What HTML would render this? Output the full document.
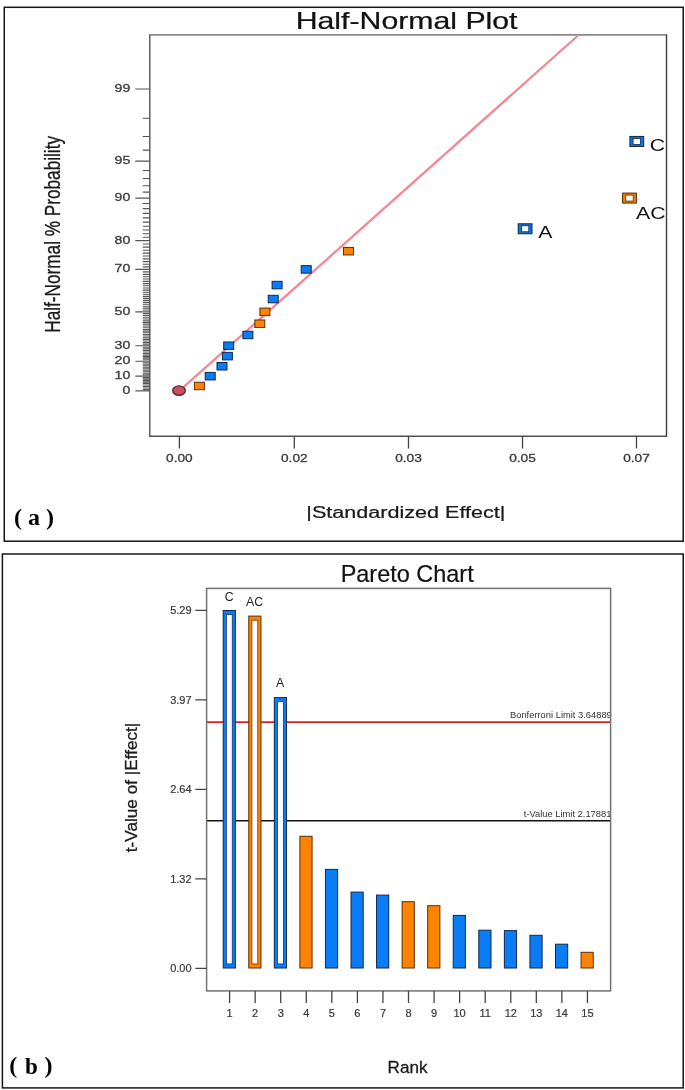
<!DOCTYPE html><html><head><meta charset="utf-8"><style>html,body{margin:0;padding:0;background:#fff;width:685px;height:1090px;overflow:hidden}svg{display:block;filter:blur(0.35px)}</style></head><body>
<svg width="685" height="1090" viewBox="0 0 685 1090">
<rect x="0" y="0" width="685" height="1090" fill="#fff"/>
<rect x="4.25" y="7.3" width="678.95" height="533.9" fill="none" stroke="#161616" stroke-width="1.5"/>
<rect x="2.4" y="554" width="680.8" height="533.9" fill="none" stroke="#161616" stroke-width="1.5"/>
<text transform="translate(295.72,29.20) scale(1.3153,1)" font-family='"Liberation Sans", sans-serif' font-size="23" fill="#111" xml:space="preserve" stroke="#111" stroke-width="0.25">Half-Normal Plot</text>
<path d="M149.10000000000002 34.9H667.2" stroke="#888" stroke-width="1.8" fill="none"/>
<path d="M149.8 34.9V436.3" stroke="#555" stroke-width="1.4" fill="none"/>
<path d="M666.5 34.9V437.0" stroke="#3c3c3c" stroke-width="1.4" fill="none"/>
<path d="M149.10000000000002 436.3H667.2" stroke="#505050" stroke-width="1.4" fill="none"/>
<path d="M135.3 390.90H149.8 M142.8 389.43H149.8 M142.8 387.96H149.8 M142.8 386.49H149.8 M142.8 385.02H149.8 M142.8 383.55H149.8 M142.8 382.08H149.8 M142.8 380.60H149.8 M142.8 379.13H149.8 M142.8 377.65H149.8 M135.3 376.17H149.8 M142.8 374.69H149.8 M142.8 373.20H149.8 M142.8 371.72H149.8 M142.8 370.22H149.8 M142.8 368.73H149.8 M142.8 367.23H149.8 M142.8 365.73H149.8 M142.8 364.23H149.8 M142.8 362.72H149.8 M135.3 361.20H149.8 M142.8 359.68H149.8 M142.8 358.16H149.8 M142.8 356.63H149.8 M142.8 355.09H149.8 M142.8 353.55H149.8 M142.8 352.00H149.8 M142.8 350.44H149.8 M142.8 348.88H149.8 M142.8 347.31H149.8 M135.3 345.73H149.8 M142.8 344.14H149.8 M142.8 342.55H149.8 M142.8 340.95H149.8 M142.8 339.33H149.8 M142.8 337.71H149.8 M142.8 336.07H149.8 M142.8 334.43H149.8 M142.8 332.77H149.8 M142.8 331.11H149.8 M142.8 329.43H149.8 M142.8 327.74H149.8 M142.8 326.03H149.8 M142.8 324.31H149.8 M142.8 322.58H149.8 M142.8 320.83H149.8 M142.8 319.06H149.8 M142.8 317.28H149.8 M142.8 315.48H149.8 M142.8 313.67H149.8 M135.3 311.83H149.8 M142.8 309.98H149.8 M142.8 308.10H149.8 M142.8 306.21H149.8 M142.8 304.29H149.8 M142.8 302.35H149.8 M142.8 300.38H149.8 M142.8 298.39H149.8 M142.8 296.37H149.8 M142.8 294.32H149.8 M142.8 292.24H149.8 M142.8 290.13H149.8 M142.8 287.99H149.8 M142.8 285.81H149.8 M142.8 283.60H149.8 M142.8 281.34H149.8 M142.8 279.05H149.8 M142.8 276.71H149.8 M142.8 274.33H149.8 M142.8 271.89H149.8 M135.3 269.40H149.8 M142.8 266.86H149.8 M142.8 264.26H149.8 M142.8 261.59H149.8 M142.8 258.86H149.8 M142.8 256.05H149.8 M142.8 253.16H149.8 M142.8 250.19H149.8 M142.8 247.12H149.8 M142.8 243.95H149.8 M135.3 240.67H149.8 M142.8 237.27H149.8 M142.8 233.73H149.8 M142.8 230.04H149.8 M142.8 226.19H149.8 M142.8 222.15H149.8 M142.8 217.90H149.8 M142.8 213.41H149.8 M142.8 208.64H149.8 M142.8 203.55H149.8 M135.3 198.08H149.8 M142.8 192.16H149.8 M142.8 185.68H149.8 M142.8 178.50H149.8 M142.8 170.43H149.8 M135.3 161.14H149.8 M142.8 150.15H149.8 M142.8 136.51H149.8 M142.8 118.20H149.8 M135.3 88.95H149.8" stroke="#555" stroke-width="1.1" fill="none"/>
<text transform="translate(130.3,393.90) scale(1.22,1)" text-anchor="end" font-family='"Liberation Sans", sans-serif' font-size="11.6" fill="#3a3a3a" stroke="#3a3a3a" stroke-width="0.3">0</text>
<text transform="translate(130.3,379.17) scale(1.22,1)" text-anchor="end" font-family='"Liberation Sans", sans-serif' font-size="11.6" fill="#3a3a3a" stroke="#3a3a3a" stroke-width="0.3">10</text>
<text transform="translate(130.3,364.20) scale(1.22,1)" text-anchor="end" font-family='"Liberation Sans", sans-serif' font-size="11.6" fill="#3a3a3a" stroke="#3a3a3a" stroke-width="0.3">20</text>
<text transform="translate(130.3,348.73) scale(1.22,1)" text-anchor="end" font-family='"Liberation Sans", sans-serif' font-size="11.6" fill="#3a3a3a" stroke="#3a3a3a" stroke-width="0.3">30</text>
<text transform="translate(130.3,314.83) scale(1.22,1)" text-anchor="end" font-family='"Liberation Sans", sans-serif' font-size="11.6" fill="#3a3a3a" stroke="#3a3a3a" stroke-width="0.3">50</text>
<text transform="translate(130.3,272.40) scale(1.22,1)" text-anchor="end" font-family='"Liberation Sans", sans-serif' font-size="11.6" fill="#3a3a3a" stroke="#3a3a3a" stroke-width="0.3">70</text>
<text transform="translate(130.3,243.67) scale(1.22,1)" text-anchor="end" font-family='"Liberation Sans", sans-serif' font-size="11.6" fill="#3a3a3a" stroke="#3a3a3a" stroke-width="0.3">80</text>
<text transform="translate(130.3,201.08) scale(1.22,1)" text-anchor="end" font-family='"Liberation Sans", sans-serif' font-size="11.6" fill="#3a3a3a" stroke="#3a3a3a" stroke-width="0.3">90</text>
<text transform="translate(130.3,164.14) scale(1.22,1)" text-anchor="end" font-family='"Liberation Sans", sans-serif' font-size="11.6" fill="#3a3a3a" stroke="#3a3a3a" stroke-width="0.3">95</text>
<text transform="translate(130.3,91.95) scale(1.22,1)" text-anchor="end" font-family='"Liberation Sans", sans-serif' font-size="11.6" fill="#3a3a3a" stroke="#3a3a3a" stroke-width="0.3">99</text>
<path d="M179.4 436.3V448.5 M294.3 436.3V448.5 M408.5 436.3V448.5 M522.5 436.3V448.5 M636.5 436.3V448.5" stroke="#444" stroke-width="1.3" fill="none"/>
<text transform="translate(179.4,462.3) scale(1.18,1)" text-anchor="middle" font-family='"Liberation Sans", sans-serif' font-size="11.6" fill="#3a3a3a" stroke="#3a3a3a" stroke-width="0.3">0.00</text>
<text transform="translate(294.3,462.3) scale(1.18,1)" text-anchor="middle" font-family='"Liberation Sans", sans-serif' font-size="11.6" fill="#3a3a3a" stroke="#3a3a3a" stroke-width="0.3">0.02</text>
<text transform="translate(408.5,462.3) scale(1.18,1)" text-anchor="middle" font-family='"Liberation Sans", sans-serif' font-size="11.6" fill="#3a3a3a" stroke="#3a3a3a" stroke-width="0.3">0.03</text>
<text transform="translate(522.5,462.3) scale(1.18,1)" text-anchor="middle" font-family='"Liberation Sans", sans-serif' font-size="11.6" fill="#3a3a3a" stroke="#3a3a3a" stroke-width="0.3">0.05</text>
<text transform="translate(636.5,462.3) scale(1.18,1)" text-anchor="middle" font-family='"Liberation Sans", sans-serif' font-size="11.6" fill="#3a3a3a" stroke="#3a3a3a" stroke-width="0.3">0.07</text>
<text transform="translate(306.27,518.30) scale(1.2627,1)" font-family='"Liberation Sans", sans-serif' font-size="17.1" fill="#1a1a1a" xml:space="preserve" stroke="#1a1a1a" stroke-width="0.25">|Standardized Effect|</text>
<text transform="translate(60.4,332.7) scale(1.33,1) rotate(-90)" font-family='"Liberation Sans", sans-serif' font-size="17.2" fill="#1a1a1a" stroke="#1a1a1a" stroke-width="0.25">Half-Normal % Probability</text>
<line x1="179" y1="391.2" x2="578.6" y2="35.0" stroke="#f28893" stroke-width="2.3"/>
<rect x="194.40" y="382.25" width="10.0" height="7.5" fill="#ff8200" stroke="#5a2e05" stroke-width="1"/>
<rect x="205.20" y="372.42" width="10.0" height="7.5" fill="#0a7cf5" stroke="#10284a" stroke-width="1"/>
<rect x="217.00" y="362.48" width="10.0" height="7.5" fill="#0a7cf5" stroke="#10284a" stroke-width="1"/>
<rect x="222.40" y="352.37" width="10.0" height="7.5" fill="#0a7cf5" stroke="#10284a" stroke-width="1"/>
<rect x="223.70" y="341.98" width="10.0" height="7.5" fill="#0a7cf5" stroke="#10284a" stroke-width="1"/>
<rect x="242.90" y="331.23" width="10.0" height="7.5" fill="#0a7cf5" stroke="#10284a" stroke-width="1"/>
<rect x="254.80" y="319.98" width="10.0" height="7.5" fill="#ff8200" stroke="#5a2e05" stroke-width="1"/>
<rect x="259.90" y="308.08" width="10.0" height="7.5" fill="#ff8200" stroke="#5a2e05" stroke-width="1"/>
<rect x="268.20" y="295.30" width="10.0" height="7.5" fill="#0a7cf5" stroke="#10284a" stroke-width="1"/>
<rect x="272.10" y="281.33" width="10.0" height="7.5" fill="#0a7cf5" stroke="#10284a" stroke-width="1"/>
<rect x="301.20" y="265.65" width="10.0" height="7.5" fill="#0a7cf5" stroke="#10284a" stroke-width="1"/>
<rect x="343.50" y="247.44" width="10.0" height="7.5" fill="#ff8200" stroke="#5a2e05" stroke-width="1"/>
<rect x="518.20" y="223.78" width="13.8" height="10.0" fill="#1570e4" stroke="#10284a" stroke-width="1"/>
<rect x="521.40" y="225.78" width="7.4" height="6.0" fill="#fff" stroke="#10284a" stroke-width="0.8"/>
<rect x="622.60" y="193.08" width="13.8" height="10.0" fill="#f47a08" stroke="#5a2e05" stroke-width="1"/>
<rect x="625.80" y="195.08" width="7.4" height="6.0" fill="#fff" stroke="#5a2e05" stroke-width="0.8"/>
<rect x="629.90" y="136.44" width="13.8" height="10.0" fill="#1570e4" stroke="#10284a" stroke-width="1"/>
<rect x="633.10" y="138.44" width="7.4" height="6.0" fill="#fff" stroke="#10284a" stroke-width="0.8"/>
<ellipse cx="179" cy="390.6" rx="6.3" ry="4.7" fill="#cc4f5c" stroke="#5a282c" stroke-width="1.4"/>
<text transform="translate(538.2,238) scale(1.3,1)" font-family='"Liberation Sans", sans-serif' font-size="16.3" fill="#111">A</text>
<text transform="translate(649.8,151) scale(1.3,1)" font-family='"Liberation Sans", sans-serif' font-size="16.3" fill="#111">C</text>
<text transform="translate(636.1,218.6) scale(1.3,1)" font-family='"Liberation Sans", sans-serif' font-size="16.3" fill="#111">AC</text>
<text x="14" y="525.3" font-family='"Liberation Serif", serif' font-weight="bold" font-size="24" fill="#000" xml:space="preserve">( a )</text>
<text transform="translate(340.67,581.60) scale(0.9948,1)" font-family='"Liberation Sans", sans-serif' font-size="23.6" fill="#111" xml:space="preserve" stroke="#111" stroke-width="0.2">Pareto Chart</text>
<line x1="206.6" y1="722.2" x2="610.6" y2="722.2" stroke="#dd2020" stroke-width="1.8"/>
<line x1="206.6" y1="820.7" x2="610.6" y2="820.7" stroke="#111" stroke-width="1.5"/>
<text transform="translate(611.8000000000001,718) scale(0.965,1)" text-anchor="end" font-family='"Liberation Sans", sans-serif' font-size="9.7" fill="#333">Bonferroni Limit 3.64889</text>
<text transform="translate(611.4,816.8) scale(0.965,1)" text-anchor="end" font-family='"Liberation Sans", sans-serif' font-size="9.7" fill="#333">t-Value Limit 2.17881</text>
<rect x="223.20" y="610.50" width="12.2" height="357.50" fill="#0a7cf5" stroke="#10284a" stroke-width="1"/>
<rect x="226.40" y="614.60" width="5.8" height="349.30" fill="#fff" stroke="#10284a" stroke-width="0.7"/>
<rect x="248.76" y="616.10" width="12.2" height="351.90" fill="#ff8200" stroke="#5a2e05" stroke-width="1"/>
<rect x="251.96" y="620.20" width="5.8" height="343.70" fill="#fff" stroke="#5a2e05" stroke-width="0.7"/>
<rect x="274.32" y="697.60" width="12.2" height="270.40" fill="#0a7cf5" stroke="#10284a" stroke-width="1"/>
<rect x="277.52" y="701.70" width="5.8" height="262.20" fill="#fff" stroke="#10284a" stroke-width="0.7"/>
<rect x="299.88" y="836.30" width="12.2" height="131.70" fill="#ff8200" stroke="#5a2e05" stroke-width="1"/>
<rect x="325.44" y="869.40" width="12.2" height="98.60" fill="#0a7cf5" stroke="#10284a" stroke-width="1"/>
<rect x="351.00" y="892.10" width="12.2" height="75.90" fill="#0a7cf5" stroke="#10284a" stroke-width="1"/>
<rect x="376.56" y="895.10" width="12.2" height="72.90" fill="#0a7cf5" stroke="#10284a" stroke-width="1"/>
<rect x="402.12" y="901.70" width="12.2" height="66.30" fill="#ff8200" stroke="#5a2e05" stroke-width="1"/>
<rect x="427.68" y="905.70" width="12.2" height="62.30" fill="#ff8200" stroke="#5a2e05" stroke-width="1"/>
<rect x="453.24" y="915.40" width="12.2" height="52.60" fill="#0a7cf5" stroke="#10284a" stroke-width="1"/>
<rect x="478.80" y="930.20" width="12.2" height="37.80" fill="#0a7cf5" stroke="#10284a" stroke-width="1"/>
<rect x="504.36" y="930.60" width="12.2" height="37.40" fill="#0a7cf5" stroke="#10284a" stroke-width="1"/>
<rect x="529.92" y="935.30" width="12.2" height="32.70" fill="#0a7cf5" stroke="#10284a" stroke-width="1"/>
<rect x="555.48" y="944.20" width="12.2" height="23.80" fill="#0a7cf5" stroke="#10284a" stroke-width="1"/>
<rect x="581.04" y="952.30" width="12.2" height="15.70" fill="#ff8200" stroke="#5a2e05" stroke-width="1"/>
<text x="229.10" y="601.3" text-anchor="middle" font-family='"Liberation Sans", sans-serif' font-size="12.3" fill="#222">C</text>
<text x="254.66" y="606.3" text-anchor="middle" font-family='"Liberation Sans", sans-serif' font-size="12.3" fill="#222">AC</text>
<text x="280.22" y="687.4" text-anchor="middle" font-family='"Liberation Sans", sans-serif' font-size="12.3" fill="#222">A</text>
<rect x="206.6" y="588.4" width="404.0" height="402.5" fill="none" stroke="#727272" stroke-width="1.5"/>
<text x="191.6" y="972.30" text-anchor="end" font-family='"Liberation Sans", sans-serif' font-size="11" fill="#383838" stroke="#383838" stroke-width="0.2">0.00</text>
<text x="191.6" y="882.80" text-anchor="end" font-family='"Liberation Sans", sans-serif' font-size="11" fill="#383838" stroke="#383838" stroke-width="0.2">1.32</text>
<text x="191.6" y="793.30" text-anchor="end" font-family='"Liberation Sans", sans-serif' font-size="11" fill="#383838" stroke="#383838" stroke-width="0.2">2.64</text>
<text x="191.6" y="703.80" text-anchor="end" font-family='"Liberation Sans", sans-serif' font-size="11" fill="#383838" stroke="#383838" stroke-width="0.2">3.97</text>
<text x="191.6" y="614.30" text-anchor="end" font-family='"Liberation Sans", sans-serif' font-size="11" fill="#383838" stroke="#383838" stroke-width="0.2">5.29</text>
<path d="M195.3 968.30H206.6 M195.3 878.80H206.6 M195.3 789.30H206.6 M195.3 699.80H206.6 M195.3 610.30H206.6" stroke="#444" stroke-width="1.3" fill="none"/>
<text x="229.60" y="1017" text-anchor="middle" font-family='"Liberation Sans", sans-serif' font-size="11" fill="#383838" stroke="#383838" stroke-width="0.2">1</text>
<text x="255.16" y="1017" text-anchor="middle" font-family='"Liberation Sans", sans-serif' font-size="11" fill="#383838" stroke="#383838" stroke-width="0.2">2</text>
<text x="280.72" y="1017" text-anchor="middle" font-family='"Liberation Sans", sans-serif' font-size="11" fill="#383838" stroke="#383838" stroke-width="0.2">3</text>
<text x="306.28" y="1017" text-anchor="middle" font-family='"Liberation Sans", sans-serif' font-size="11" fill="#383838" stroke="#383838" stroke-width="0.2">4</text>
<text x="331.84" y="1017" text-anchor="middle" font-family='"Liberation Sans", sans-serif' font-size="11" fill="#383838" stroke="#383838" stroke-width="0.2">5</text>
<text x="357.40" y="1017" text-anchor="middle" font-family='"Liberation Sans", sans-serif' font-size="11" fill="#383838" stroke="#383838" stroke-width="0.2">6</text>
<text x="382.96" y="1017" text-anchor="middle" font-family='"Liberation Sans", sans-serif' font-size="11" fill="#383838" stroke="#383838" stroke-width="0.2">7</text>
<text x="408.52" y="1017" text-anchor="middle" font-family='"Liberation Sans", sans-serif' font-size="11" fill="#383838" stroke="#383838" stroke-width="0.2">8</text>
<text x="434.08" y="1017" text-anchor="middle" font-family='"Liberation Sans", sans-serif' font-size="11" fill="#383838" stroke="#383838" stroke-width="0.2">9</text>
<text x="459.64" y="1017" text-anchor="middle" font-family='"Liberation Sans", sans-serif' font-size="11" fill="#383838" stroke="#383838" stroke-width="0.2">10</text>
<text x="485.20" y="1017" text-anchor="middle" font-family='"Liberation Sans", sans-serif' font-size="11" fill="#383838" stroke="#383838" stroke-width="0.2">11</text>
<text x="510.76" y="1017" text-anchor="middle" font-family='"Liberation Sans", sans-serif' font-size="11" fill="#383838" stroke="#383838" stroke-width="0.2">12</text>
<text x="536.32" y="1017" text-anchor="middle" font-family='"Liberation Sans", sans-serif' font-size="11" fill="#383838" stroke="#383838" stroke-width="0.2">13</text>
<text x="561.88" y="1017" text-anchor="middle" font-family='"Liberation Sans", sans-serif' font-size="11" fill="#383838" stroke="#383838" stroke-width="0.2">14</text>
<text x="587.44" y="1017" text-anchor="middle" font-family='"Liberation Sans", sans-serif' font-size="11" fill="#383838" stroke="#383838" stroke-width="0.2">15</text>
<path d="M229.60 990.9V1003 M255.16 990.9V1003 M280.72 990.9V1003 M306.28 990.9V1003 M331.84 990.9V1003 M357.40 990.9V1003 M382.96 990.9V1003 M408.52 990.9V1003 M434.08 990.9V1003 M459.64 990.9V1003 M485.20 990.9V1003 M510.76 990.9V1003 M536.32 990.9V1003 M561.88 990.9V1003 M587.44 990.9V1003" stroke="#444" stroke-width="1.3" fill="none"/>
<text transform="translate(387.60,1073.30) scale(1.0000,1)" font-family='"Liberation Sans", sans-serif' font-size="17.1" fill="#1a1a1a" xml:space="preserve" stroke="#1a1a1a" stroke-width="0.3">Rank</text>
<text transform="translate(136.8,852.3) rotate(-90)" font-family='"Liberation Sans", sans-serif' font-size="17.2" fill="#1a1a1a" stroke="#1a1a1a" stroke-width="0.3">t-Value of |Effect|</text>
<text transform="translate(9.15,1072.80) scale(1.0000,1)" font-family='"Liberation Serif", serif' font-size="24" font-weight="bold" fill="#000" xml:space="preserve">(</text>
<text transform="translate(25.01,1074.30) scale(0.9600,1)" font-family='"Liberation Serif", serif' font-size="24" font-weight="bold" fill="#000" xml:space="preserve">b</text>
<text transform="translate(44.47,1072.80) scale(1.0000,1)" font-family='"Liberation Serif", serif' font-size="24" font-weight="bold" fill="#000" xml:space="preserve">)</text>
</svg></body></html>
